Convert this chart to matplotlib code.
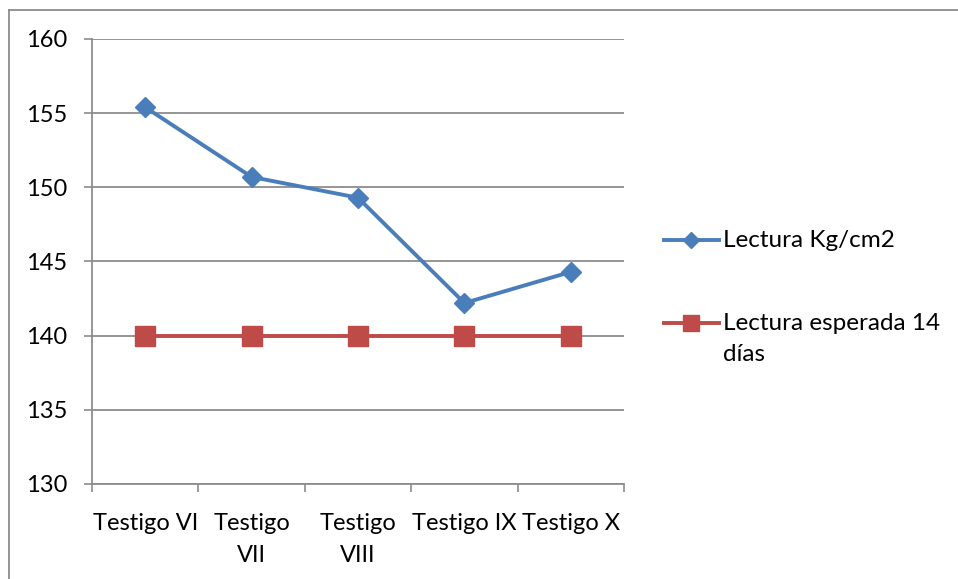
import matplotlib
matplotlib.use("Agg")
import matplotlib.pyplot as plt
from matplotlib.lines import Line2D

# Data
categories = ["Testigo VI", "Testigo VII", "Testigo VIII", "Testigo IX", "Testigo X"]
tick_labels = ["Testigo VI", "Testigo\nVII", "Testigo\nVIII", "Testigo IX", "Testigo X"]
lectura = [155.4, 150.7, 149.3, 142.2, 144.3]
esperada = [140, 140, 140, 140, 140]
series_names = ["Lectura Kg/cm2", "Lectura esperada 14\ndías"]
y_ticks = [130, 135, 140, 145, 150, 155, 160]

plt.rcParams["font.family"] = ["Lato", "DejaVu Sans"]

W, H = 958, 579
fig = plt.figure(figsize=(W / 100, H / 100), dpi=100)
fig.patch.set_facecolor("white")

ax = fig.add_axes([92 / W, 1 - 484 / H, (624 - 92) / W, (484 - 39) / H])

x = [i + 0.5 for i in range(len(categories))]
blue = "#4A7EBB"
red = "#BE4B48"
grid = "#8C8C8C"

ax.plot(x, lectura, color=blue, lw=2.8, marker="D", ms=10,
        markerfacecolor=blue, markeredgecolor=blue, label=series_names[0], zorder=3)
ax.plot(x, esperada, color=red, lw=2.8, marker="s", ms=14,
        markerfacecolor=red, markeredgecolor=red, label=series_names[1], zorder=3)

ax.set_xlim(0, len(categories))
ax.set_ylim(130, 160)
ax.set_yticks(y_ticks)
ax.set_yticklabels([str(v) for v in y_ticks], fontsize=17)

# Category axis: ticks between categories, labels centred under each point
ax.set_xticks(range(len(categories) + 1))
ax.set_xticklabels([""] * (len(categories) + 1))
ax.set_xticks(x, minor=True)
ax.set_xticklabels(tick_labels, minor=True, fontsize=17, linespacing=1.65)
ax.tick_params(axis="x", which="minor", length=0, pad=21)
ax.tick_params(axis="x", which="major", length=6, width=1.2, color=grid, direction="out")
ax.tick_params(axis="y", length=6, width=1.2, color=grid, direction="out", pad=12)

ax.yaxis.grid(True, color=grid, lw=1.3)
ax.set_axisbelow(True)
for side in ["top", "right"]:
    ax.spines[side].set_visible(False)
for side in ["left", "bottom"]:
    ax.spines[side].set_color(grid)
    ax.spines[side].set_linewidth(1.3)

leg = ax.legend(loc="upper left", bbox_to_anchor=(664 / W, 1 - 230 / H),
                bbox_transform=fig.transFigure, frameon=False, fontsize=17.5,
                handlelength=2.26, handletextpad=0.16, labelspacing=2.37,
                handleheight=1.2, borderpad=0, borderaxespad=0, markerscale=0.8)
for t in leg.get_texts():
    t.set_linespacing(1.6)
# Keep each legend marker level with the first line of its label
for column in leg._legend_handle_box.get_children():
    for item in column.get_children():
        item.align = "top"

# Chart frame edges
fig.add_artist(Line2D([9 / W, 1], [1 - 10 / H, 1 - 10 / H], color="#8C8C8C", lw=1.3,
                      transform=fig.transFigure))
fig.add_artist(Line2D([9 / W, 9 / W], [0, 1 - 10 / H], color="#8C8C8C", lw=1.3,
                      transform=fig.transFigure))

fig.savefig("out.png", dpi=100, facecolor="white")
